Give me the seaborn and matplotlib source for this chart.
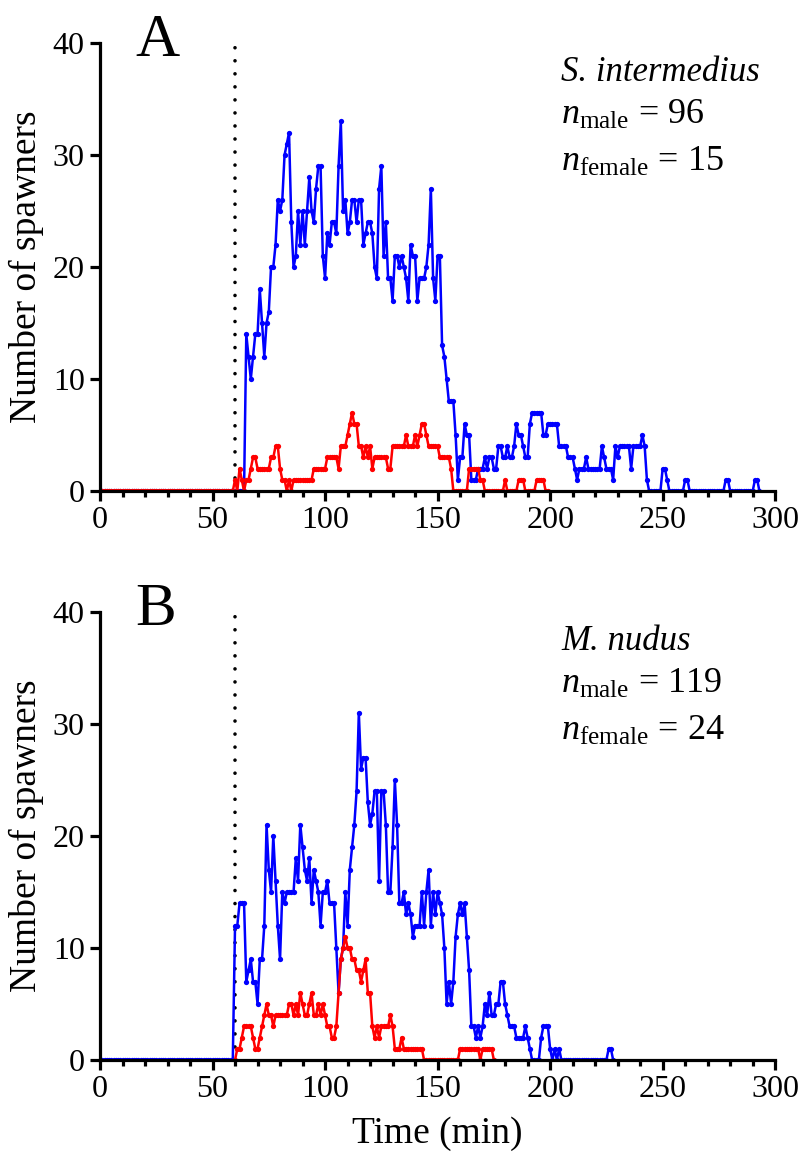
import numpy as np
import matplotlib
matplotlib.use("Agg")
import matplotlib.pyplot as plt
import seaborn as sns

# spawner counts per minute
# panel A: S. intermedius
a_male_t0 = 0
a_male = [0] * 65 + [
    14, 12, 10, 12, 14, 14, 18, 15, 12, 15, 16, 20, 20, 22, 26, 25, 26, 30, 31, 32,   # 65-84
    24, 20, 21, 25, 22, 25, 22, 25, 28, 25, 24, 27, 29, 29, 21, 19, 23, 22, 24, 24,   # 85-104
    23, 29, 33, 25, 26, 23, 24, 26, 26, 24, 26, 26, 22, 23, 24, 24, 23, 20, 19, 27,   # 105-124
    29, 21, 24, 19, 19, 17, 21, 21, 20, 21, 20, 19, 17, 22, 21, 21, 17, 19, 19, 19,   # 125-144
    20, 22, 27, 19, 17, 21, 21, 13, 12, 10, 8, 8, 8, 5, 1, 3, 3, 6, 5, 5,             # 145-164
    1, 1, 1, 2, 2, 2, 3, 2, 3, 3, 2, 2, 4, 4, 3, 3, 4, 3, 3, 4,                       # 165-184
    6, 5, 5, 4, 3, 3, 6, 7, 7, 7, 7, 7, 5, 5, 6, 6, 6, 6, 6, 4,                       # 185-204
    4, 4, 4, 3, 3, 3, 2, 1, 2, 2, 2, 3, 2, 2, 2, 2, 2, 2, 4, 3,                       # 205-224
    2, 2, 2, 1, 4, 3, 4, 4, 4, 4, 4, 2, 4, 4, 4, 4, 5, 4, 1, 0,                       # 225-244
    0, 0, 0, 0, 0, 2, 2, 1, 0, 0, 0, 0, 0, 0, 0, 1, 1, 0, 0, 0,                       # 245-264
    0, 0, 0, 0, 0, 0, 0, 0, 0, 0, 0, 0, 0, 1, 1, 0, 0, 0, 0, 0,                       # 265-284
    0, 0, 0, 0, 0, 0, 1, 1, 0,                                                         # 285-293
]
a_female_t0 = 0
a_female = [0] * 60 + [
    1, 0, 2, 1, 0, 1, 1, 2, 3, 3, 2, 2, 2, 2, 2, 2, 3, 3, 4, 4,                       # 60-79
    2, 1, 1, 0, 1, 0, 1, 1, 1, 1, 1, 1, 1, 1, 1, 2, 2, 2, 2, 2,                       # 80-99
    2, 3, 3, 3, 3, 3, 2, 4, 4, 4, 5, 6, 7, 6, 6, 4, 4, 3, 4, 3,                       # 100-119
    4, 2, 3, 3, 3, 3, 3, 3, 2, 2, 4, 4, 4, 4, 4, 4, 5, 4, 4, 4,                       # 120-139
    5, 4, 5, 6, 6, 5, 4, 4, 4, 4, 4, 3, 3, 3, 3, 3, 2, 0, 0, 0,                       # 140-159
    0, 0, 0, 0, 2, 2, 2, 2, 2, 1, 1, 0, 0, 0, 0, 0, 0, 0, 0, 0,                       # 160-179
    1, 0, 0, 0, 0, 0, 1, 1, 1, 0, 0, 0, 0, 0, 1, 1, 1, 1, 0, 0,                       # 180-199
]

# panel B: M. nudus
b_male_t0 = 0
b_male = [0] * 60 + [
    12, 12, 14, 14, 14, 7, 8, 9, 7, 7, 5, 9, 9, 12, 21, 17, 15, 20, 16, 12,           # 60-79
    9, 15, 14, 15, 15, 15, 15, 18, 16, 21, 19, 17, 16, 18, 14, 17, 16, 15, 12, 15,    # 80-99
    15, 16, 14, 14, 14, 10, 6, 9, 10, 15, 12, 17, 19, 21, 24, 31, 26, 27, 27, 23,     # 100-119
    21, 22, 24, 24, 16, 24, 24, 21, 15, 15, 19, 25, 21, 14, 14, 15, 13, 14, 13, 11,   # 120-139
    12, 12, 12, 15, 12, 15, 17, 12, 15, 13, 15, 14, 13, 10, 5, 7, 5, 7, 11, 13,       # 140-159
    14, 13, 14, 11, 8, 3, 3, 2, 3, 2, 3, 5, 4, 6, 4, 4, 5, 5, 7, 7,                   # 160-179
    5, 4, 3, 3, 3, 2, 2, 2, 2, 3, 2, 1, 0, 0, 0, 0, 2, 3, 3, 3,                       # 180-199
    1, 0, 1, 0, 1, 0, 0, 0, 0, 0, 0, 0, 0, 0, 0, 0, 0, 0, 0, 0,                       # 200-219
    0, 0, 0, 0, 0, 0, 1, 1, 0,                                                         # 220-228
]
b_female_t0 = 60
b_female = [
    0, 1, 1, 2, 3, 3, 3, 3, 2, 1, 1, 2, 3, 4, 5, 4, 4, 3, 4, 4,                       # 60-79
    4, 4, 4, 4, 5, 5, 4, 5, 4, 6, 5, 4, 4, 5, 6, 4, 4, 5, 4, 5,                       # 80-99
    4, 3, 3, 2, 2, 3, 6, 9, 10, 11, 10, 10, 9, 9, 8, 8, 7, 8, 9, 6,                   # 100-119
    6, 3, 2, 3, 2, 3, 3, 3, 3, 4, 3, 1, 1, 1, 2, 1, 1, 1, 1, 1,                       # 120-139
    1, 1, 1, 1, 0, 0, 0, 0, 0, 0, 0, 0, 0, 0, 0, 0, 0, 0, 0, 0,                       # 140-159
    1, 1, 1, 1, 1, 1, 1, 1, 1, 0, 1, 1, 1, 1, 1, 0,                                   # 160-175
]

panels = [
    ("A", "S. intermedius", 96, 15, a_male_t0, a_male, a_female_t0, a_female),
    ("B", "M. nudus", 119, 24, b_male_t0, b_male, b_female_t0, b_female),
]

release_time = 60

sns.set_style("ticks")
plt.rcParams["font.family"] = ["Liberation Serif", "DejaVu Serif"]
plt.rcParams["mathtext.fontset"] = "custom"
plt.rcParams["mathtext.rm"] = "Liberation Serif"
plt.rcParams["mathtext.it"] = "Liberation Serif:italic"
for key in ("text.color", "axes.labelcolor", "xtick.color", "ytick.color",
            "axes.edgecolor"):
    plt.rcParams[key] = "black"

fig = plt.figure(figsize=(8, 11.6), dpi=100)
axes = [fig.add_axes([0.125, 0.5767, 0.844, 0.3862]),
        fig.add_axes([0.125, 0.0862, 0.844, 0.3862])]

for ax, (tag, species, n_m, n_f, tm0, male, tf0, female) in zip(axes, panels):
    tm = np.arange(tm0, tm0 + len(male))
    tf = np.arange(tf0, tf0 + len(female))
    sns.lineplot(x=tm, y=male, ax=ax, color="#0000ff", linewidth=1.8,
                 marker="o", markersize=3.8, markeredgewidth=0, estimator=None)
    sns.lineplot(x=tf, y=female, ax=ax, color="#ff0000", linewidth=1.8,
                 marker="o", markersize=3.8, markeredgewidth=0, estimator=None)
    ax.axvline(release_time, color="black", linewidth=2.6,
               linestyle=(0, (0.01, 3.6)), dash_capstyle="round", zorder=1)

    ax.set_xlim(0, 300)
    ax.set_ylim(0, 40)
    ax.set_xticks(range(0, 301, 50))
    ax.set_xticks(range(0, 301, 10), minor=True)
    ax.set_yticks(range(0, 41, 10))
    sns.despine(ax=ax)
    for s in ("left", "bottom"):
        ax.spines[s].set_linewidth(2.3)
    ax.tick_params(axis="both", which="major", width=2.3, length=7,
                   labelsize=23, pad=4)
    ax.tick_params(axis="x", which="minor", width=2.3, length=4.5)
    ax.set_ylabel("Number of spawners", fontsize=27, labelpad=6)
    ax.set_xlabel("")

    ax.text(0.052, 0.972, tag, transform=ax.transAxes, fontsize=44,
            va="baseline")
    ax.text(0.683, 0.915, species, transform=ax.transAxes, fontsize=25,
            style="italic", va="baseline")
    ax.text(0.683, 0.82, r"$n_{\mathrm{male}}$ = " + str(n_m),
            transform=ax.transAxes, fontsize=26, va="baseline")
    ax.text(0.683, 0.715, r"$n_{\mathrm{female}}$ = " + str(n_f),
            transform=ax.transAxes, fontsize=26, va="baseline")

axes[1].set_xlabel("Time (min)", fontsize=27, labelpad=9)

fig.savefig("out.png", dpi=100)
